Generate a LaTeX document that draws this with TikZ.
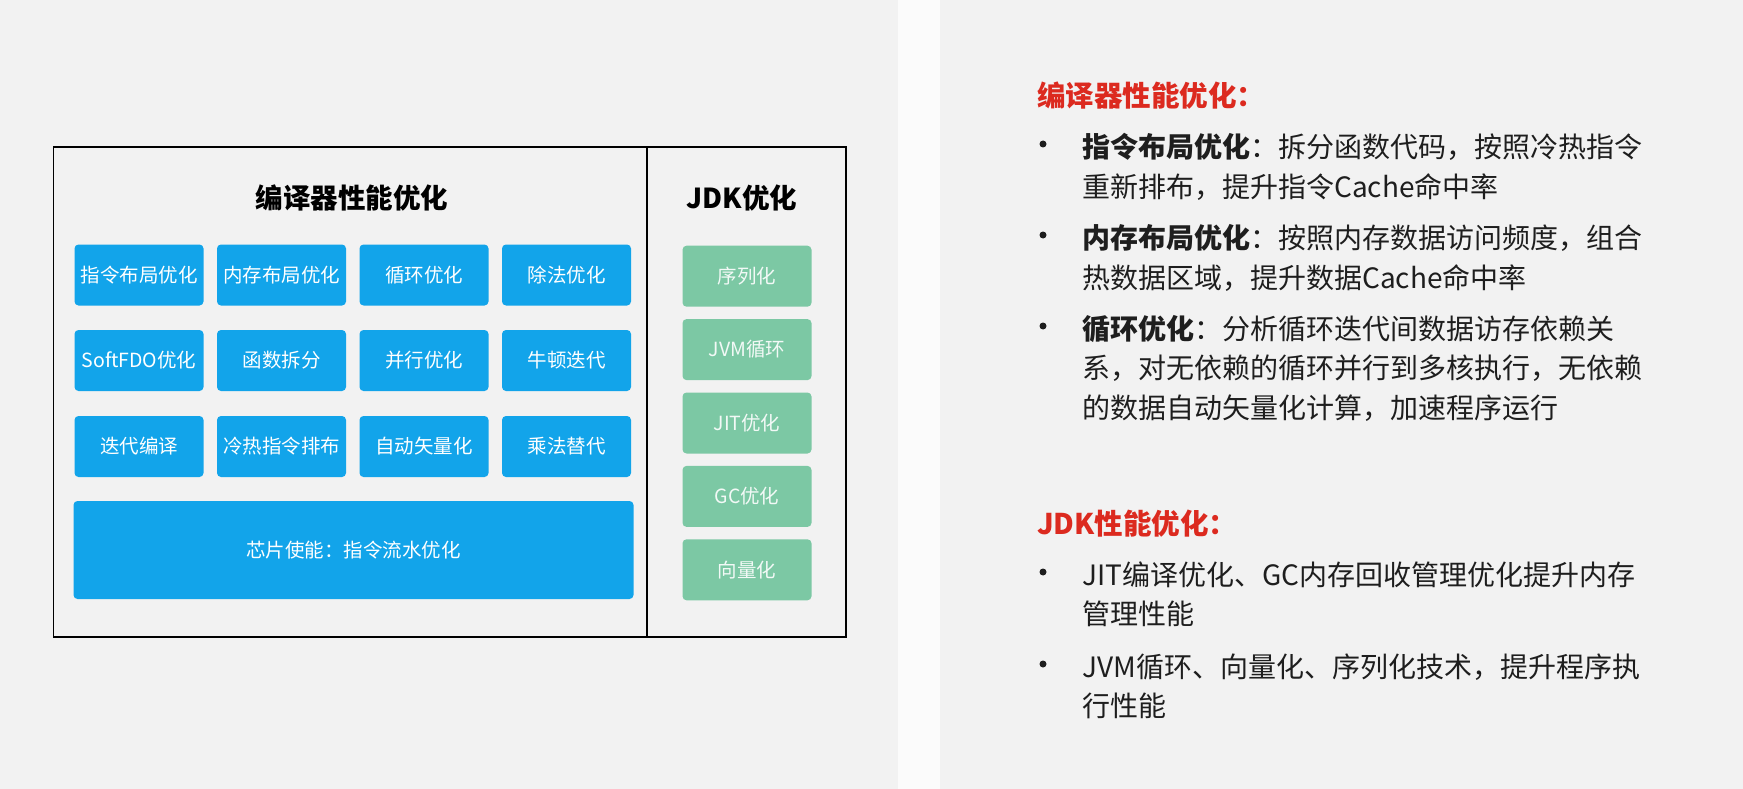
\documentclass[tikz,border=0pt]{standalone}
\usepackage{fontspec}
\setmainfont{Noto Sans CJK SC}
\usetikzlibrary{positioning}

\definecolor{boxblue}{HTML}{12A4EA}
\definecolor{boxgreen}{HTML}{7CC8A4}
\definecolor{titlered}{HTML}{DC2A1F}
\definecolor{panelgray}{HTML}{F2F2F2}
\definecolor{gapgray}{HTML}{FBFBFB}
\definecolor{textdark}{HTML}{1E1E1E}

\begin{document}
\begin{tikzpicture}[x=1pt, y=-1pt,
    optbox/.style = {fill=boxblue, rounded corners=4pt, text=white, minimum width=129pt, minimum height=61pt, inner sep=0pt, font=\fontsize{19.5}{22}\selectfont},
    jdkbox/.style = {fill=boxgreen, rounded corners=4pt, text=white!90!boxgreen, minimum width=129pt, minimum height=61pt, inner sep=0pt, font=\fontsize{19.5}{22}\selectfont},
    part/.style = {draw=black, line width=1.8pt, minimum height=490pt, inner sep=0pt},
    heading/.style = {inner sep=0pt, font=\bfseries\fontsize{27.5}{30}\selectfont},
    redtitle/.style = {anchor=base west, inner sep=0pt, text=titlered, font=\bfseries\fontsize{28.5}{32}\selectfont},
    item/.style = {anchor=base west, inner sep=0pt, align=left, text=textdark, font=\fontsize{28}{39.5}\selectfont},
    dot/.style = {circle, fill=textdark, inner sep=0pt, minimum size=7pt}]

    \fill[panelgray] (0,0) rectangle (898,789);
    \fill[gapgray] (898,0) rectangle (940,789);
    \fill[panelgray] (940,0) rectangle (1743,789);
    \useasboundingbox (0,0) rectangle (1743,789);

    \node[part, minimum width=593.5pt] (l) at (350.25,392) {};
    \node[part, minimum width=199pt] (r) at (746.5,392) {};

    \node[heading] (lt) at (352,198) {编译器性能优化};
    \node[heading] (rt) at (742,198) {JDK优化};

    \node[optbox] (a1) at (139,275) {指令布局优化};
    \node[optbox] (a2) at (281.5,275) {内存布局优化};
    \node[optbox] (a3) at (424,275) {循环优化};
    \node[optbox] (a4) at (566.5,275) {除法优化};

    \node[optbox] (b1) at (139,360.5) {SoftFDO优化};
    \node[optbox] (b2) at (281.5,360.5) {函数拆分};
    \node[optbox] (b3) at (424,360.5) {并行优化};
    \node[optbox] (b4) at (566.5,360.5) {牛顿迭代};

    \node[optbox] (c1) at (139,446.5) {迭代编译};
    \node[optbox] (c2) at (281.5,446.5) {冷热指令排布};
    \node[optbox] (c3) at (424,446.5) {自动矢量化};
    \node[optbox] (c4) at (566.5,446.5) {乘法替代};

    \node[optbox, minimum width=560pt, minimum height=98pt] (chip) at (353.5,550) {芯片使能：指令流水优化};

    \node[jdkbox] (g1) at (747,276.2) {序列化};
    \node[jdkbox] (g2) at (747,349.6) {JVM循环};
    \node[jdkbox] (g3) at (747,423) {JIT优化};
    \node[jdkbox] (g4) at (747,496.4) {GC优化};
    \node[jdkbox] (g5) at (747,569.8) {向量化};

    \node[redtitle] (h1) at (1037,107) {编译器性能优化：};
    \node[dot] (d1) at (1043,144) {};
    \node[dot] (d2) at (1043,235) {};
    \node[dot] (d3) at (1043,326) {};
    \node[item] (t1) at (1082,197) {\textbf{指令布局优化}：拆分函数代码，按照冷热指令\\重新排布，提升指令Cache命中率};
    \node[item] (t2) at (1082,288) {\textbf{内存布局优化}：按照内存数据访问频度，组合\\热数据区域，提升数据Cache命中率};
    \node[item] (t3) at (1082,418) {\textbf{循环优化}：分析循环迭代间数据访存依赖关\\系，对无依赖的循环并行到多核执行，无依赖\\的数据自动矢量化计算，加速程序运行};

    \node[redtitle] (h2) at (1037,534) {JDK性能优化：};
    \node[dot] (d4) at (1043,572) {};
    \node[dot] (d5) at (1043,664) {};
    \node[item] (t4) at (1082,624.5) {JIT编译优化、GC内存回收管理优化提升内存\\管理性能};
    \node[item] (t5) at (1082,716.5) {JVM循环、向量化、序列化技术，提升程序执\\行性能};

\end{tikzpicture}
\end{document}
